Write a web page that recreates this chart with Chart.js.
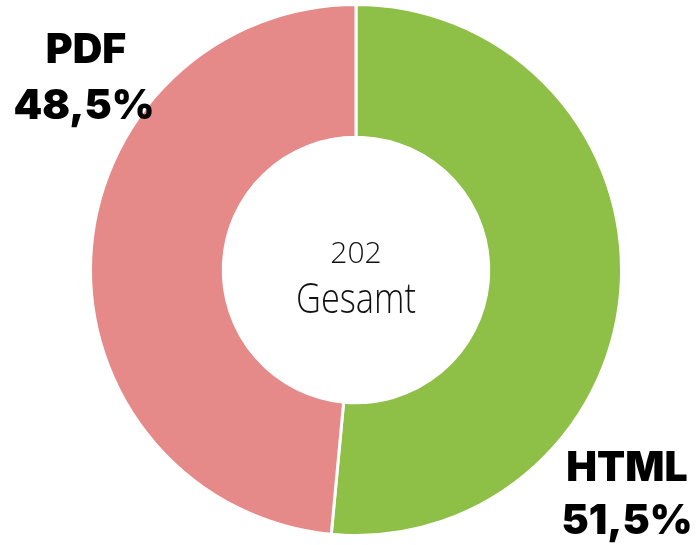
<!DOCTYPE html>
<html><head><meta charset="utf-8">
<script src="https://cdn.jsdelivr.net/npm/chart.js@4/dist/chart.umd.min.js"></script>
<style>html,body{margin:0;padding:0;background:#fff}#wrap{width:697px;height:545px}</style>
</head><body><div id="wrap"><canvas id="c" width="697" height="545"></canvas></div>
<script>
const categories = ['HTML', 'PDF'];
const counts = [104, 98];
const percentLabels = ['51,5%', '48,5%'];
const colors = ['#8ebf46', '#e68a89'];
const totalLabel = '202';
const centerCaption = 'Gesamt';

const textPlugin = {
  id: 'texts',
  afterDraw(chart) {
    const ctx = chart.ctx;
    const meta = chart.getDatasetMeta(0).data[0];
    const cx = meta.x, cy = meta.y;
    ctx.save();
    ctx.fillStyle = '#111';
    ctx.textAlign = 'center';
    ctx.textBaseline = 'alphabetic';
    // center
    ctx.font = '300 30px "Open Sans"';
    ctx.fillText(totalLabel, cx, cy - 7);
    ctx.save();
    ctx.translate(cx, cy + 43);
    ctx.scale(0.8, 1);
    ctx.font = '300 43px "Open Sans"';
    ctx.fillText(centerCaption, 0, 0);
    ctx.restore();
    // labels
    ctx.fillStyle = '#000';
    ctx.font = '900 41px Inter';
    ctx.fillText(categories[1], 86, 63);
    ctx.fillText(percentLabels[1], 84, 119);
    ctx.fillText(categories[0], 627, 481);
    ctx.fillText(percentLabels[0], 627, 534);
    ctx.restore();
  }
};

new Chart(document.getElementById('c'), {
  type: 'doughnut',
  data: {
    labels: categories,
    datasets: [{
      data: counts,
      backgroundColor: colors,
      borderColor: '#ffffff',
      borderWidth: 3,
      hoverOffset: 0
    }]
  },
  options: {
    responsive: false,
    animation: false,
    cutout: '50%',
    layout: { padding: { left: 15, right: 0, top: 3, bottom: 8 } },
    plugins: { legend: { display: false }, tooltip: { enabled: false } }
  },
  plugins: [textPlugin]
});
</script></body></html>
